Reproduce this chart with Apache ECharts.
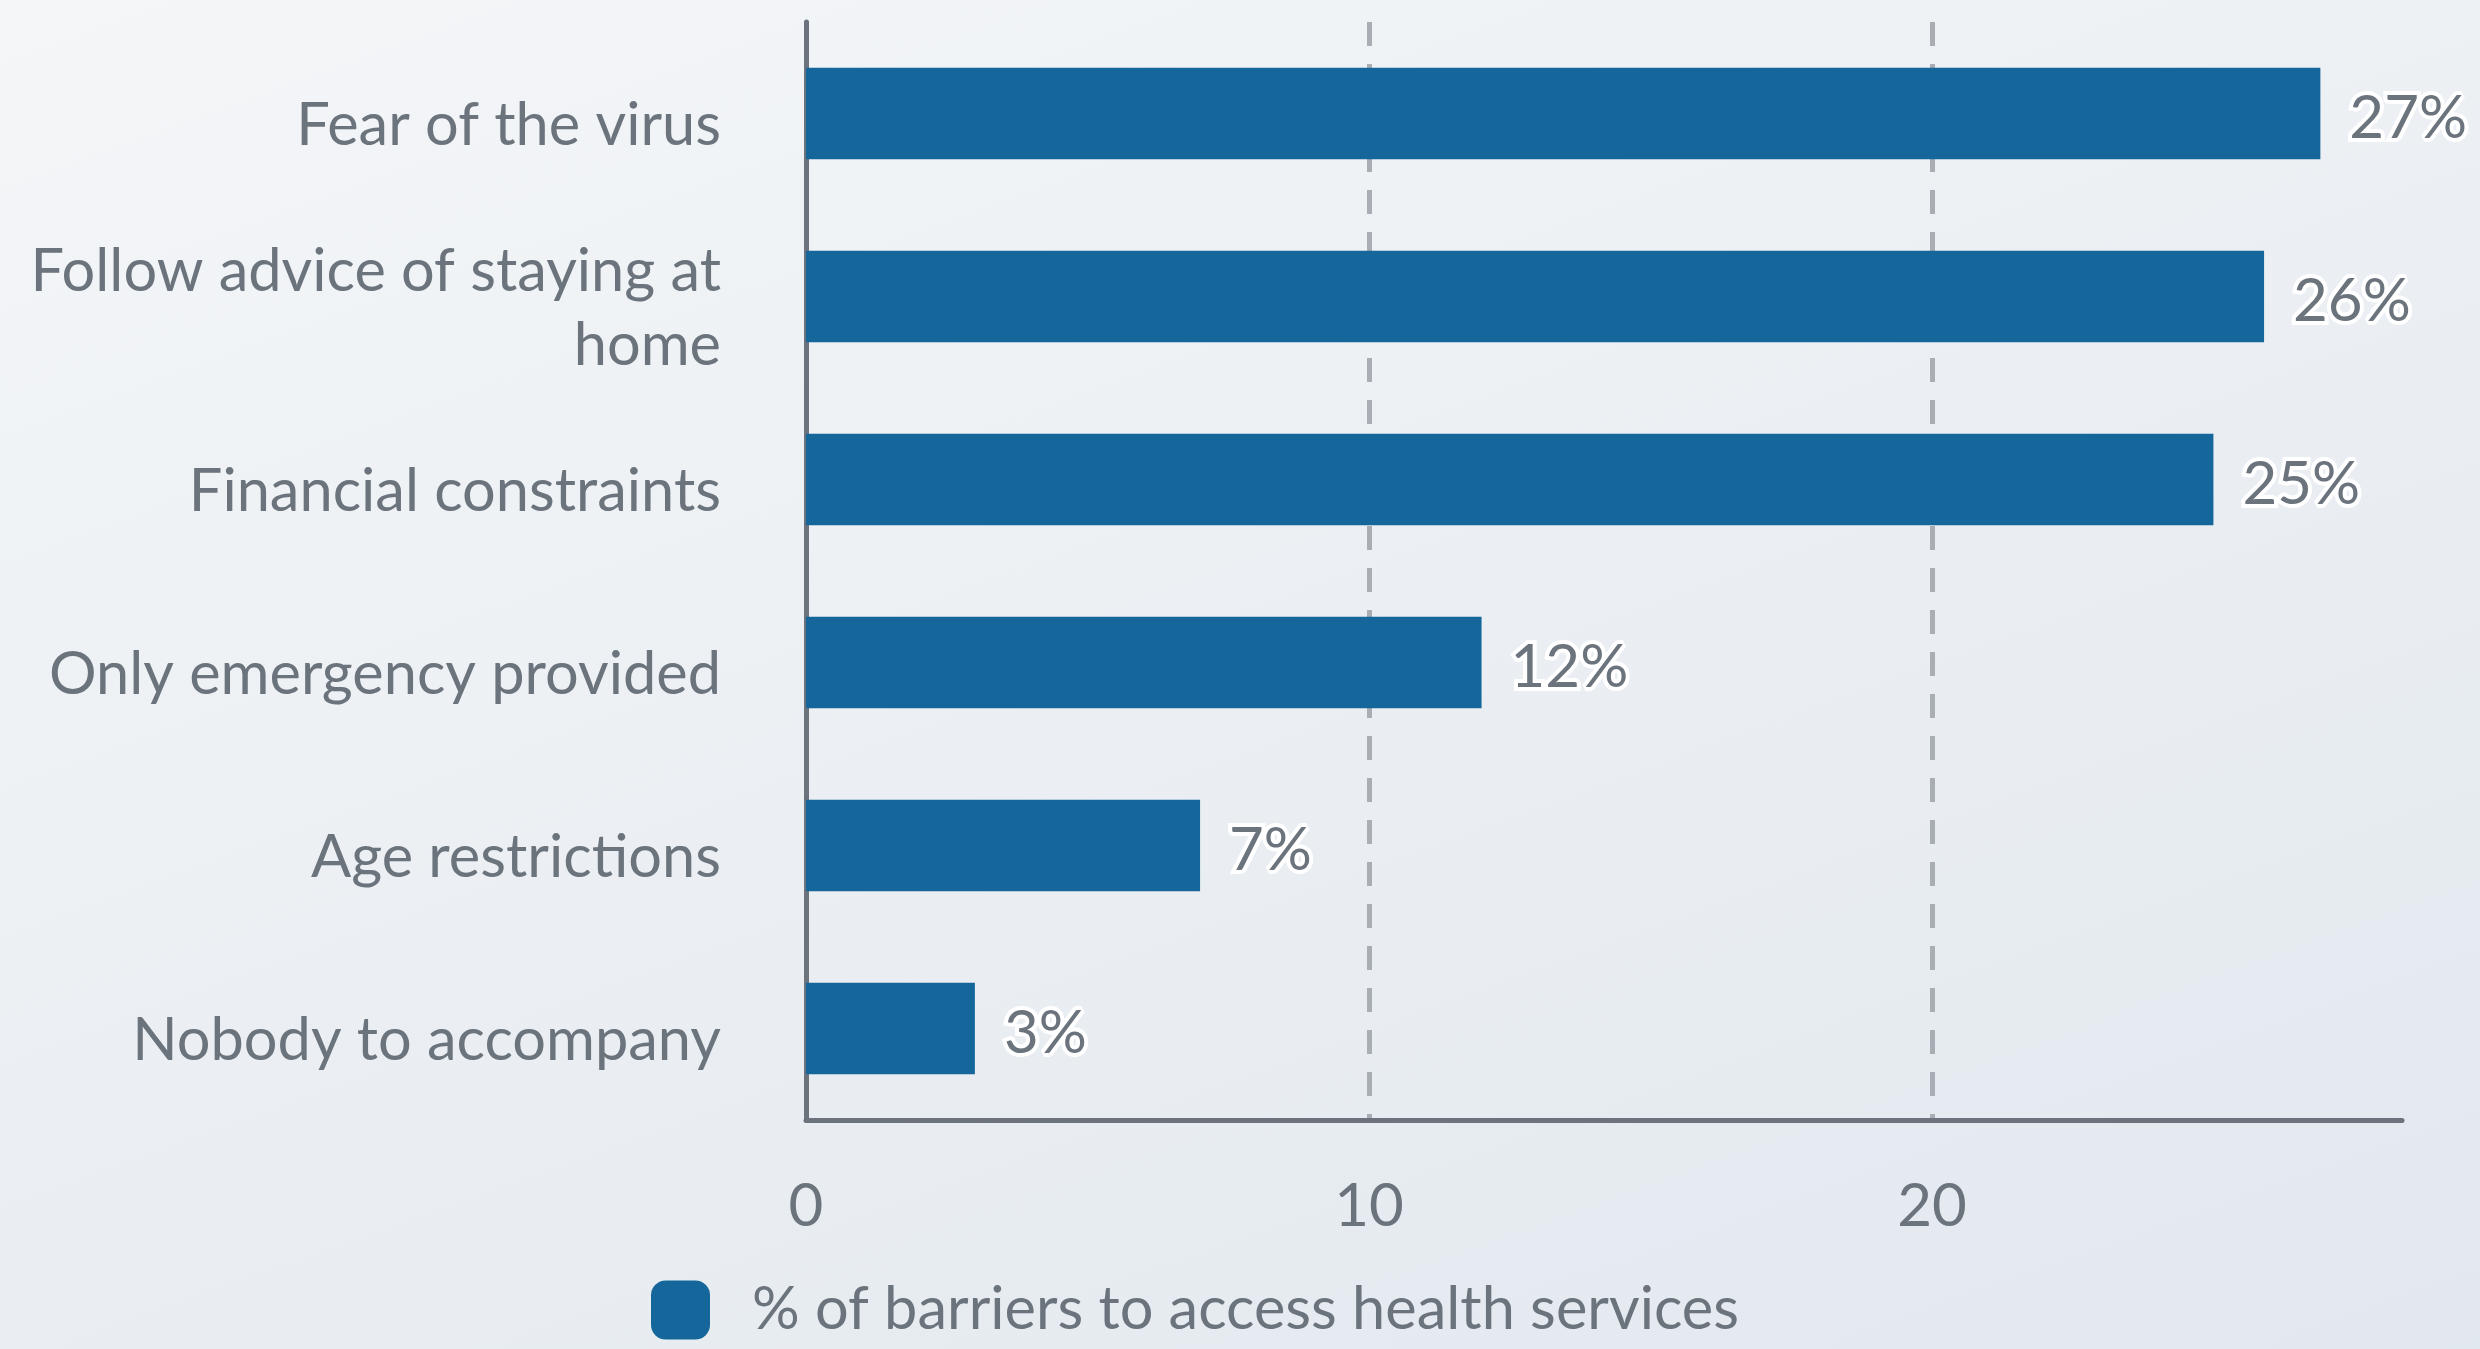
<!DOCTYPE html>
<html>
<head>
<meta charset="utf-8">
<script src="https://cdn.jsdelivr.net/npm/echarts@6/dist/echarts.min.js"></script>
<style>
  html, body { margin: 0; padding: 0; }
  #main {
    width: 2480px;
    height: 1349px;
    background: linear-gradient(160deg, #f4f6f8 0%, #ebeff3 50%, #e2e8ef 100%);
  }
</style>
</head>
<body>
<div id="main"></div>
<script>
// barriers to access health services
const categories = [
  'Fear of the virus',
  'Follow advice of staying at\nhome',
  'Financial constraints',
  'Only emergency provided',
  'Age restrictions',
  'Nobody to accompany'
]
const values = [26.9, 25.9, 25, 12, 7, 3]
const seriesName = '% of barriers to access health services'
const xTicks = [0, 10, 20]

const textColor = '#6b737c'
const fontFamily = 'Lato, sans-serif'

const chart = echarts.init(document.getElementById('main'), null, { renderer: 'canvas' })

let option = {
  backgroundColor: 'transparent',
  textStyle: { fontFamily: fontFamily },
  grid: {
    left: 806,
    right: 78,
    top: 22,
    bottom: 229,
    containLabel: false
  },
  legend: {
    data: [seriesName],
    left: 646,
    top: 1275,
    icon: 'roundRect',
    itemWidth: 59,
    itemHeight: 59,
    textStyle: {
      fontFamily: fontFamily,
      fontSize: 59.5,
      color: textColor,
      padding: [0, 0, 0, 37]
    }
  },
  xAxis: {
    type: 'value',
    min: xTicks[0],
    max: 28.35,
    interval: xTicks[1] - xTicks[0],
    axisLine: { show: true, lineStyle: { color: '#6c737c', width: 5 } },
    axisTick: { show: false },
    axisLabel: {
      fontFamily: fontFamily,
      fontSize: 60,
      color: textColor,
      margin: 57,
      showMaxLabel: false
    },
    splitLine: {
      show: true,
      lineStyle: {
        // first and last lines hidden (0 sits under the y axis, max has no tick)
        color: ['rgba(0,0,0,0)', '#a9aeb4', '#a9aeb4', 'rgba(0,0,0,0)'],
        width: 5,
        type: [24, 18]
      }
    }
  },
  yAxis: {
    type: 'category',
    inverse: true,
    data: categories,
    axisLine: { show: true, lineStyle: { color: '#6c737c', width: 5 } },
    axisTick: { show: false },
    axisLabel: {
      margin: 85,
      // rich token with top padding so the text sits a bit below the band centre
      formatter: function (v) {
        return v.split('\n').map(function (s) { return '{t|' + s + '}' }).join('\n')
      },
      rich: {
        t: {
          fontFamily: fontFamily,
          fontSize: 59.5,
          color: textColor,
          lineHeight: 74,
          padding: [24, 0, 0, 0],
          align: 'right'
        }
      }
    }
  },
  series: [
    {
      name: seriesName,
      type: 'bar',
      data: values,
      barCategoryGap: '50%',
      itemStyle: { color: '#15669b' },
      label: {
        show: true,
        position: 'right',
        distance: 29,
        formatter: function (p) { return '{v|' + Math.round(p.value) + '%}' },
        rich: {
          v: {
            fontFamily: fontFamily,
            fontSize: 60,
            color: textColor,
            textBorderColor: '#ffffff',
            textBorderWidth: 8,
            padding: [11, 0, 0, 0]
          }
        }
      }
    }
  ]
}

chart.setOption(option)
</script>
</body>
</html>
